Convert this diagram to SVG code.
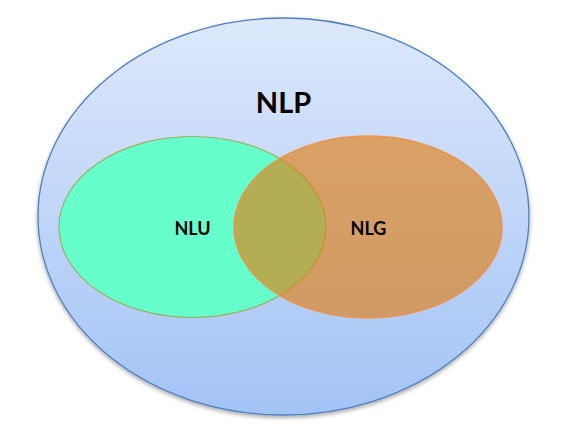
<svg xmlns="http://www.w3.org/2000/svg" width="585" height="426" viewBox="0 0 585 426">
  <defs>
    <linearGradient id="nlpGrad" x1="0" y1="0" x2="0" y2="1">
      <stop offset="0" stop-color="#dde8fb"/>
      <stop offset="1" stop-color="#a3c3f6"/>
    </linearGradient>
    <filter id="shadow" x="-10%" y="-10%" width="120%" height="120%">
      <feDropShadow dx="0" dy="2" stdDeviation="2" flood-color="#000" flood-opacity="0.35"/>
    </filter>
  </defs>
  <style>
    .label { font-family: Lato, "Open Sans", "Liberation Sans", sans-serif; font-weight: bold; fill: #000; text-anchor: middle; }
  </style>
  <rect width="585" height="426" fill="#ffffff"/>
  <g id="nlp">
    <ellipse cx="283.5" cy="216.5" rx="245.5" ry="198.5" fill="url(#nlpGrad)" stroke="#4f7fbf" stroke-width="1.3" filter="url(#shadow)"/>
    <text class="label" x="283.5" y="113" font-size="29">NLP</text>
  </g>
  <g id="nlu">
    <ellipse cx="192.5" cy="227" rx="133.5" ry="90.5" fill="#66ffcc" stroke="#9bb25a" stroke-width="1.2"/>
    <text class="label" x="192.5" y="235" font-size="18">NLU</text>
  </g>
  <g id="nlg">
    <ellipse cx="368" cy="227" rx="134" ry="91" fill="#e27d0a" fill-opacity="0.62" stroke="#f0914a" stroke-width="1.5"/>
    <text class="label" x="368.5" y="235" font-size="18">NLG</text>
  </g>
  <g id="connectors"/>
</svg>
